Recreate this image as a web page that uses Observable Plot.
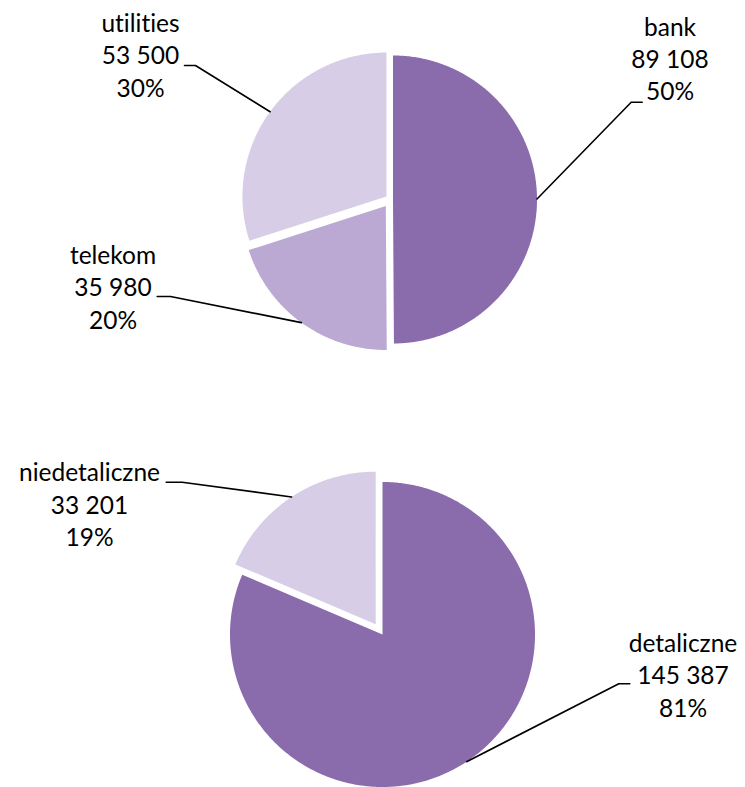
<!DOCTYPE html>
<html><head><meta charset="utf-8">
<script src="https://cdn.jsdelivr.net/npm/d3@7"></script>
<script src="https://cdn.jsdelivr.net/npm/@observablehq/plot@0.6"></script>
<style>
html,body{margin:0;padding:0;background:#fff;}
#chart svg{display:block;}
#chart text{font-variant-ligatures:none;font-feature-settings:"liga" 0, "clig" 0;}
</style></head><body><div id="chart"></div>
<script>
// ---- data ----
const pie1Categories = ["bank", "telekom", "utilities"];
const pie1Values = [89108, 35980, 53500];
const pie2Categories = ["detaliczne", "niedetaliczne"];
const pie2Values = [145387, 33201];

// ---- styles ----
const sliceColors = {bank: "#8a6bac", telekom: "#bba9d3", utilities: "#d8cde7",
                     detaliczne: "#8a6bac", niedetaliczne: "#d8cde7"};

// ---- layout (pixels) ----
const W = 745, H = 787;
const pieLayout = [
  {categories: pie1Categories, values: pie1Values, cx: 390, cy: 199, r: 144, explode: [2.5, 8, 5]},
  {categories: pie2Categories, values: pie2Values, cx: 382, cy: 634, r: 152.5, explode: [0, 12.4]}
];
const labelLayout = {
  utilities:     {x: 140,   y: 31.5,  tail: [184, 65],     elbow: [195, 65]},
  bank:          {x: 669.5, y: 35,    tail: [641.7, 101.7], elbow: [630.7, 101.7]},
  telekom:       {x: 112.5, y: 263.5, tail: [156.7, 296],  elbow: [170, 296]},
  niedetaliczne: {x: 89,    y: 480.7, tail: [165.7, 481.7], elbow: [181.7, 481.7]},
  detaliczne:    {x: 682.5, y: 651.5, tail: [629.3, 683.3], elbow: [618.3, 683.3]}
};
const lineGap = 32.3;

const fmt = d3.formatLocale({decimal: ",", thousands: " ", grouping: [3], currency: ["", ""]}).format(",d");

// ---- geometry from data ----
const slices = [];
const leaders = [];
const texts = [];
for (const p of pieLayout) {
  const total = d3.sum(p.values);
  const arcs = d3.pie().sort(null)(p.values);
  arcs.forEach((a, i) => {
    const key = p.categories[i];
    const mid = (a.startAngle + a.endAngle) / 2;
    const ox = p.cx + p.explode[i] * Math.sin(mid);
    const oy = p.cy - p.explode[i] * Math.cos(mid);
    const pts = [{key, x: ox, y: oy}];
    const n = Math.max(8, Math.ceil((a.endAngle - a.startAngle) / 0.01));
    for (let k = 0; k <= n; k++) {
      const t = a.startAngle + (a.endAngle - a.startAngle) * k / n;
      pts.push({key, x: ox + p.r * Math.sin(t), y: oy - p.r * Math.cos(t)});
    }
    pts.push({key, x: ox, y: oy});
    slices.push({key, pts});
    const L = labelLayout[key];
    leaders.push({key, x: L.tail[0], y: L.tail[1]});
    leaders.push({key, x: L.elbow[0], y: L.elbow[1]});
    leaders.push({key, x: ox + p.r * Math.sin(mid), y: oy - p.r * Math.cos(mid)});
    const lines = [key, fmt(p.values[i]), Math.round(100 * p.values[i] / total) + "%"];
    lines.forEach((s, j) => texts.push({x: L.x, y: L.y + j * lineGap, text: s}));
  });
}

const chart = Plot.plot({
  width: W, height: H, margin: 0,
  x: {domain: [0, W], range: [0, W], axis: null},
  y: {domain: [0, H], range: [0, H], axis: null},
  style: {background: "#fff", overflow: "visible"},
  marks: [
    ...slices.map(s => Plot.line(s.pts, {x: "x", y: "y", fill: sliceColors[s.key], stroke: "none"})),
    Plot.line(leaders, {x: "x", y: "y", z: "key", stroke: "#000", strokeWidth: 1.6}),
    Plot.text(texts, {x: "x", y: "y", text: "text", textAnchor: "middle", lineAnchor: "bottom",
      fontSize: 24.5, fontFamily: "Lato", fontWeight: 400, fill: "#000"})
  ]
});
d3.select(chart).selectAll("g").filter(function () {
  const f = this.getAttribute("fill");
  return f && f !== "none" && f !== "currentColor" && this.getAttribute("stroke") === "none";
}).style("filter", "drop-shadow(1px 1.5px 1.5px rgba(0,0,0,0.35))");
document.getElementById("chart").appendChild(chart);
</script></body></html>
